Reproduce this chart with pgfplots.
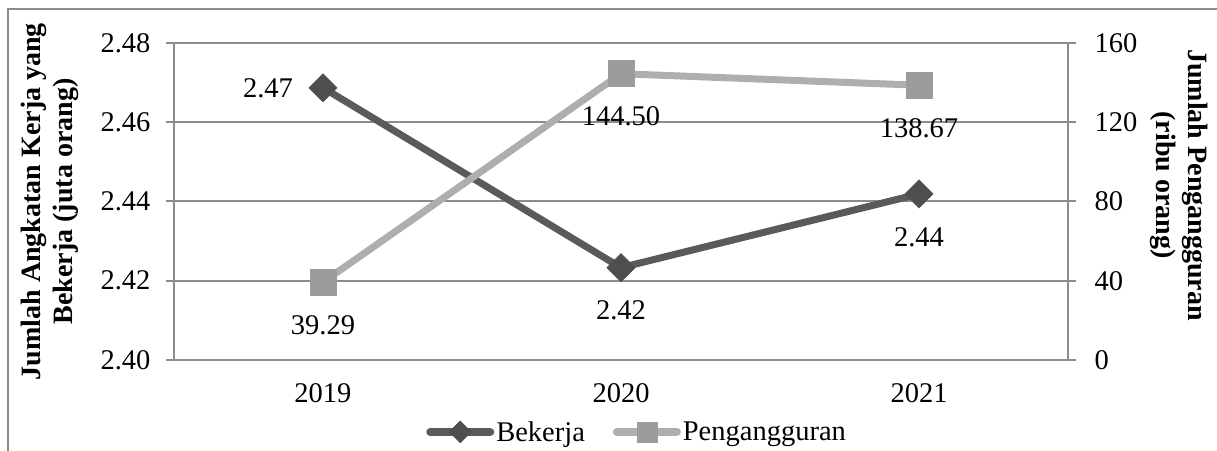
\documentclass[border=0pt]{standalone}
\usepackage{fontspec}
\setmainfont{Liberation Serif}
\usepackage{pgfplots}
\pgfplotsset{compat=1.18}
\definecolor{dk}{HTML}{5A5A5A}
\definecolor{lt}{HTML}{AEAEAE}
\definecolor{sq}{HTML}{9C9C9C}
\definecolor{dm}{HTML}{4E4E4E}
\definecolor{gr}{HTML}{8C8C8C}
\newcommand\fs{\fontsize{28.5bp}{32bp}\selectfont}
\newcommand\tfs{\fontsize{28bp}{32bp}\selectfont\bfseries}
\pgfplotsset{
  /pgf/number format/assume math mode=true,
  base/.style={
    scale only axis, width=894bp, height=317bp,
    at={(0,0)}, anchor=south west,
    xmin=-0.5, xmax=2.5,
    tick label style={font=\fs, black},
    axis line style={gr, line width=2bp},
    tick style={gr, line width=2bp},
    major tick length=8bp, minor tick length=8bp,
    tick align=outside,
  },
}
\pgfplotstableread{
x y dx dy
0 2.4687 -55 0
1 2.4233 0 -43
2 2.4419 0 -43
}\bek
\pgfplotstableread{
x y dx dy
0 39.29 0 -43
1 144.50 0 -43
2 138.67 0 -43
}\pen
\begin{document}
\begin{tikzpicture}
\useasboundingbox (-174bp,-91bp) rectangle (1043bp,360bp);
\clip (-174bp,-91bp) rectangle (1043bp,360bp);
\draw[gr, line width=2bp] (-166bp,-120bp) rectangle (1080bp,351bp);
\begin{axis}[base,
  ymin=2.40, ymax=2.48,
  ytick={2.40,2.42,2.44,2.46,2.48},
  yticklabels={2.40,2.42,2.44,2.46,2.48},
  yticklabel style={xshift=-12bp},
  xtick={0,1,2}, xticklabels={2019,2020,2021},
  xticklabel style={yshift=-12bp},
  minor xtick={-0.5,0.5,1.5,2.5},
  xtick style={draw=none},
  minor x tick style={gr, line width=2bp},
  axis x line*=bottom, axis y line*=left,
  ymajorgrids, grid style={gr, line width=2bp},
  every axis y label/.style={at={(axis description cs:-0.1387,0.5)}, rotate=90, anchor=center, align=center, font=\tfs},
  ylabel={Jumlah Angkatan Kerja yang\\Bekerja (juta orang)},
  nodes near coords style={font=\fs, black, anchor=center, xshift=\dx bp, yshift=\dy bp},
]
\addplot[dk, line width=7bp, mark=square*, mark size=10bp,
  mark options={rotate=45, fill=dm, draw=dm, line width=0.5bp},
  visualization depends on={\thisrow{dx}\as\dx},
  visualization depends on={\thisrow{dy}\as\dy},
  nodes near coords={\pgfmathprintnumber[fixed,fixed zerofill,precision=2]{\pgfplotspointmeta}},
] table[x=x,y=y] {\bek};
\end{axis}
\begin{axis}[base,
  ymin=0, ymax=160,
  ytick={0,40,80,120,160},
  yticklabels={0,40,80,120,160},
  yticklabel style={xshift=15bp},
  axis x line=none, axis y line*=right,
  every axis y label/.style={at={(axis description cs:1.124,0.552)}, rotate=-90, anchor=center, align=center, font=\tfs},
  ylabel={Jumlah Pengangguran\\(ribu orang)},
  nodes near coords style={font=\fs, black, anchor=center, xshift=\dx bp, yshift=\dy bp},
  legend style={draw=none, fill=none, at={(0.518,-0.227)}, anchor=center, font=\fs,
    nodes={inner xsep=2bp, inner ysep=1bp}},
  legend columns=2,
  legend cell align=left,
  /tikz/every even column/.append style={column sep=26bp},
]
\addlegendimage{legend image code/.code={
  \draw[dk, line width=8bp, line cap=round] (0bp,0bp) -- (60bp,0bp);
  \fill[dm] (30bp,-11bp) -- (41bp,0bp) -- (30bp,11bp) -- (19bp,0bp) -- cycle;}}
\addlegendentry{Bekerja}
\addlegendimage{legend image code/.code={
  \draw[lt, line width=8bp, line cap=round] (0bp,0bp) -- (60bp,0bp);
  \fill[sq] (20bp,-10bp) rectangle (40bp,10bp);}}
\addlegendentry{Pengangguran}
\addplot[forget plot, lt, line width=7bp, mark=square*, mark size=13bp,
  mark options={fill=sq, draw=sq, line width=0.5bp},
  visualization depends on={\thisrow{dx}\as\dx},
  visualization depends on={\thisrow{dy}\as\dy},
  nodes near coords={\pgfmathprintnumber[fixed,fixed zerofill,precision=2]{\pgfplotspointmeta}},
] table[x=x,y=y] {\pen};
\end{axis}
\end{tikzpicture}
\end{document}
